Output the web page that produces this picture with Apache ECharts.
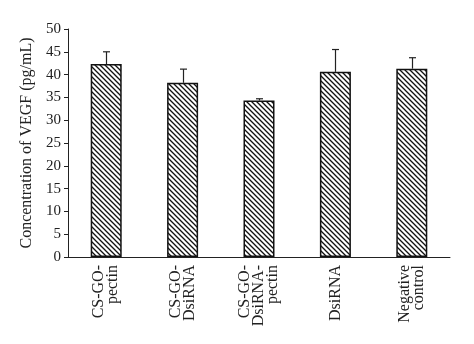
<!DOCTYPE html>
<html><head><meta charset="utf-8">
<script src="https://cdn.jsdelivr.net/npm/echarts@6/dist/echarts.min.js"></script>
<style>html,body{margin:0;padding:0;background:#fff}#c{width:474px;height:344px}</style>
</head><body><div id="c"></div>
<script>
var categories = ['CS-GO-\npectin', 'CS-GO-\nDsiRNA', 'CS-GO-\nDsiRNA-\npectin', 'DsiRNA', 'Negative\ncontrol'];
var values = [42.3, 38.2, 34.3, 40.6, 41.3];
var errors = [2.7, 3.0, 0.4, 4.9, 2.4];
var yTicks = {min: 0, max: 50, interval: 5};

function hatch() {
  var s = 5, c = document.createElement('canvas');
  c.width = s; c.height = s;
  var g = c.getContext('2d');
  g.fillStyle = '#fff'; g.fillRect(0, 0, s, s);
  g.strokeStyle = '#111'; g.lineWidth = 1.3;
  g.beginPath();
  g.moveTo(-1, -1); g.lineTo(s + 1, s + 1);
  g.moveTo(-1, s - 1); g.lineTo(1, s + 1);
  g.moveTo(s - 1, -1); g.lineTo(s + 1, 1);
  g.stroke();
  return c;
}

var chart = echarts.init(document.getElementById('c'), null, {renderer: 'canvas'});
var font = 'Liberation Serif';
chart.setOption({
  animation: false,
  grid: {left: 68, right: 24, top: 29, bottom: 87},
  xAxis: {
    type: 'category', data: categories,
    axisLine: {lineStyle: {color: '#222', width: 1}},
    axisTick: {show: false},
    axisLabel: {rotate: 90, margin: 8, color: '#222', fontFamily: font, fontSize: 16, lineHeight: 14}
  },
  yAxis: {
    type: 'value', min: yTicks.min, max: yTicks.max, interval: yTicks.interval,
    name: 'Concentration of VEGF (pg/mL)', nameLocation: 'middle', nameGap: 31,
    nameTextStyle: {fontFamily: font, fontSize: 16, color: '#222'},
    axisLine: {show: true, lineStyle: {color: '#222', width: 1}},
    axisTick: {show: true, inside: false, length: 4, lineStyle: {color: '#222'}},
    axisLabel: {margin: 7, color: '#222', fontFamily: font, fontSize: 15},
    splitLine: {show: false}
  },
  series: [{
    type: 'bar', data: values, barWidth: 31,
    itemStyle: {color: {image: hatch(), repeat: 'repeat'}, borderColor: '#111', borderWidth: 1.5}
  }, {
    type: 'custom',
    data: values.map(function (v, i) { return [i, v, v + errors[i]]; }),
    renderItem: function (params, api) {
      var lo = api.coord([api.value(0), api.value(1)]);
      var hi = api.coord([api.value(0), api.value(2)]);
      var x = Math.round(lo[0]) + 0.5;
      return {type: 'group', children: [
        {type: 'line', shape: {x1: x, y1: lo[1], x2: x, y2: hi[1]}, style: {stroke: '#222', lineWidth: 1.2}},
        {type: 'line', shape: {x1: x - 3.5, y1: hi[1], x2: x + 3.5, y2: hi[1]}, style: {stroke: '#222', lineWidth: 1.2}}
      ]};
    },
    z: 3
  }]
});
</script></body></html>
